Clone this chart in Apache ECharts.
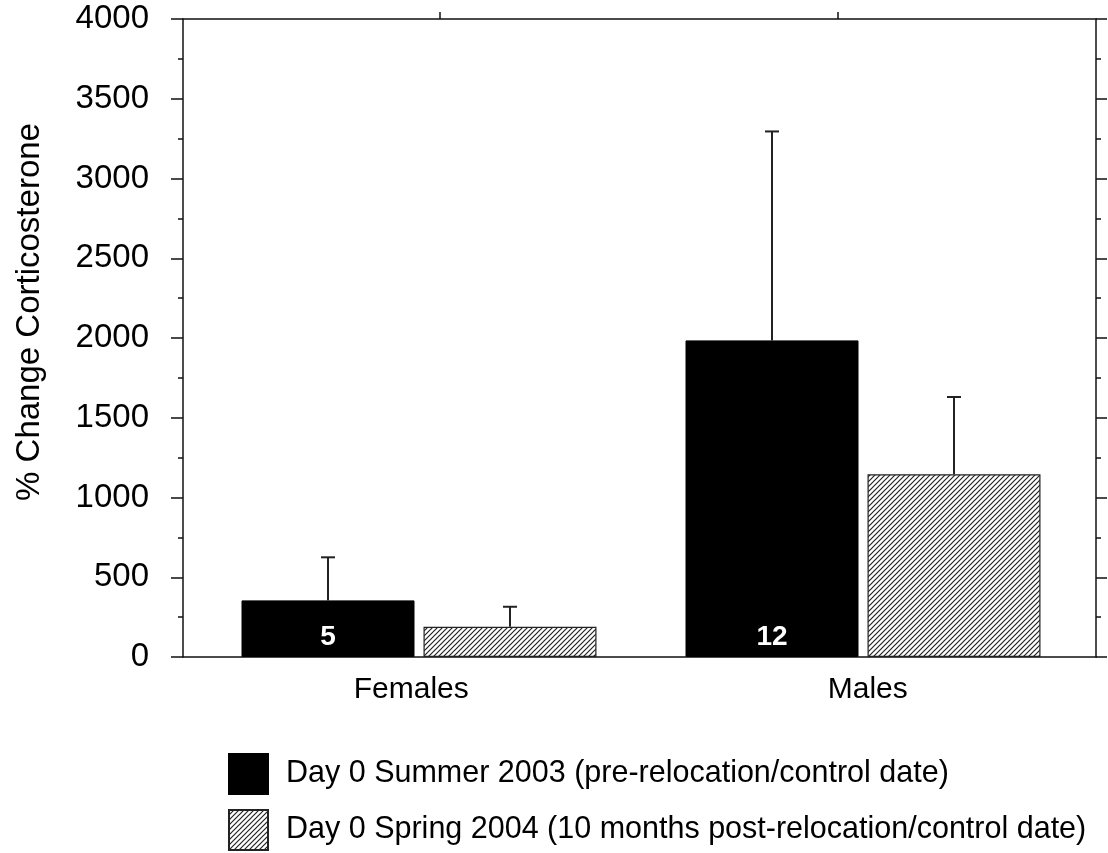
<!DOCTYPE html>
<html>
<head>
<meta charset="utf-8">
<style>
html,body{margin:0;padding:0;background:#fff;}
#main{width:1108px;height:853px;}
</style>
<script src="https://cdn.jsdelivr.net/npm/echarts@6/dist/echarts.min.js"></script>
</head>
<body>
<div id="main"></div>
<script>
// ---- data ----
var categories = ['Females', 'Males'];
var seriesNames = [
  'Day 0 Summer 2003 (pre-relocation/control date)',
  'Day 0 Spring 2004 (10 months post-relocation/control date)'
];
var summerMeans = [355, 1985];
var summerUpper = [625, 3295];
var springMeans = [190, 1145];
var springUpper = [315, 1630];
var sampleSizes = [5, 12];
var yTicks = [0, 500, 1000, 1500, 2000, 2500, 3000, 3500, 4000];

// ---- styles ----
var FONT = '"Liberation Sans", Arial, sans-serif';
var BAR_W = 173, BAR_GAP = 9;
var OFFSET = (BAR_W + BAR_GAP) / 2;

function hatchPattern() {
  var s = 5;
  var c = document.createElement('canvas');
  c.width = s; c.height = s;
  var ctx = c.getContext('2d');
  ctx.fillStyle = '#fff';
  ctx.fillRect(0, 0, s, s);
  ctx.strokeStyle = '#222';
  ctx.lineWidth = 1.2;
  ctx.beginPath();
  ctx.moveTo(-1, s + 1); ctx.lineTo(s + 1, -1);
  ctx.moveTo(-1, 1); ctx.lineTo(1, -1);
  ctx.moveTo(s - 1, s + 1); ctx.lineTo(s + 1, s - 1);
  ctx.stroke();
  return { image: c, repeat: 'repeat' };
}
var hatch = hatchPattern();

function errData(means, uppers) {
  return means.map(function (m, i) { return [i, m, uppers[i]]; });
}

function errSeries(means, uppers, dir) {
  return {
    type: 'custom',
    xAxisIndex: 2, yAxisIndex: 2,
    z: 5,
    silent: true,
    data: errData(means, uppers),
    renderItem: function (params, api) {
      var p0 = api.coord([api.value(0), api.value(1)]);
      var p1 = api.coord([api.value(0), api.value(2)]);
      var x = p0[0] + dir * OFFSET;
      var cap = 7;
      var st = { stroke: '#222', lineWidth: 2 };
      return {
        type: 'group',
        children: [
          { type: 'line', shape: { x1: x, y1: p0[1], x2: x, y2: p1[1] }, style: st },
          { type: 'line', shape: { x1: x - cap, y1: p1[1], x2: x + cap, y2: p1[1] }, style: st }
        ]
      };
    }
  };
}

var axisLineStyle = { color: '#111', width: 1.5 };
var tickStyle = { color: '#111', width: 1.5 };
var yMin = yTicks[0], yMax = yTicks[yTicks.length - 1];

function legendFor(name, top) {
  return {
    orient: 'vertical',
    left: 228,
    top: top,
    padding: 0,
    itemWidth: 39,
    itemHeight: 40,
    icon: 'rect',
    selectedMode: false,
    data: [name],
    textStyle: { fontFamily: FONT, fontSize: 30.5, color: '#000', padding: [0, 0, 0, 13] }
  };
}

var chart = echarts.init(document.getElementById('main'), null, { renderer: 'canvas' });
chart.setOption({
  backgroundColor: '#fff',
  animation: false,
  textStyle: { fontFamily: FONT },
  grid: [
    { left: 183, right: 12, top: 19, bottom: 196, containLabel: false },
    { left: 197, right: 23, top: 19, bottom: 196, containLabel: false }
  ],
  legend: [legendFor(seriesNames[0], 753), legendFor(seriesNames[1], 809)],
  xAxis: [
    {
      type: 'category',
      gridIndex: 0,
      data: categories,
      position: 'bottom',
      axisLine: { lineStyle: axisLineStyle },
      axisTick: { show: false },
      axisLabel: { fontFamily: FONT, fontSize: 30, color: '#000', margin: 18 },
      splitLine: { show: false }
    },
    {
      type: 'value',
      gridIndex: 0,
      position: 'top',
      min: 0, max: 1,
      axisLine: { show: true, onZero: false, lineStyle: axisLineStyle },
      axisTick: { show: true, inside: false, length: 7, customValues: [0.2815, 0.717], lineStyle: tickStyle },
      axisLabel: { show: false },
      splitLine: { show: false }
    },
    {
      type: 'category',
      gridIndex: 1,
      data: categories,
      show: false
    }
  ],
  yAxis: [
    {
      type: 'value',
      gridIndex: 0,
      min: yMin, max: yMax, interval: 500,
      position: 'left',
      name: '% Change Corticosterone',
      nameLocation: 'middle',
      nameGap: 137,
      nameTextStyle: { fontFamily: FONT, fontSize: 33, color: '#000', padding: [0, 0, 0, 52] },
      axisLine: { show: true, onZero: false, lineStyle: axisLineStyle },
      axisTick: { show: true, length: 12, lineStyle: tickStyle },
      minorTick: { show: true, splitNumber: 2, length: 5, lineStyle: tickStyle },
      axisLabel: {
        fontFamily: FONT, fontSize: 33, color: '#000', margin: 34,
        formatter: function (v) { return String(v); }
      },
      splitLine: { show: false },
      minorSplitLine: { show: false }
    },
    {
      type: 'value',
      gridIndex: 0,
      min: yMin, max: yMax, interval: 500,
      position: 'right',
      axisLine: { show: true, onZero: false, lineStyle: axisLineStyle },
      axisTick: { show: true, length: 11, lineStyle: tickStyle },
      minorTick: { show: true, splitNumber: 2, length: 5, lineStyle: tickStyle },
      axisLabel: { show: false },
      splitLine: { show: false },
      minorSplitLine: { show: false }
    },
    {
      type: 'value',
      gridIndex: 1,
      min: yMin, max: yMax,
      show: false,
      splitLine: { show: false }
    }
  ],
  series: [
    {
      name: seriesNames[0],
      type: 'bar',
      xAxisIndex: 2, yAxisIndex: 2,
      barWidth: BAR_W,
      barGap: (BAR_GAP / BAR_W * 100).toFixed(1) + '%',
      data: summerMeans.map(function (v, i) {
        return { value: v, label: { formatter: String(sampleSizes[i]) } };
      }),
      itemStyle: { color: '#000', borderColor: '#000', borderWidth: 1 },
      label: {
        show: true,
        position: 'insideBottom',
        distance: 6,
        color: '#fff',
        fontFamily: FONT,
        fontWeight: 'bold',
        fontSize: 28
      }
    },
    {
      name: seriesNames[1],
      type: 'bar',
      xAxisIndex: 2, yAxisIndex: 2,
      barWidth: BAR_W,
      data: springMeans,
      itemStyle: { color: hatch, borderColor: '#222', borderWidth: 1.2 }
    },
    errSeries(summerMeans, summerUpper, -1),
    errSeries(springMeans, springUpper, 1)
  ]
});
</script>
</body>
</html>
